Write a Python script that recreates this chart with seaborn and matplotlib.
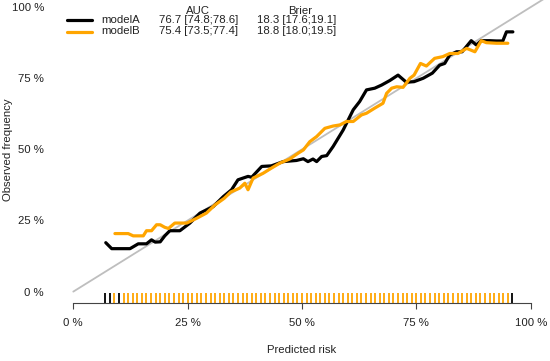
import matplotlib
matplotlib.use("Agg")
import matplotlib.pyplot as plt
from matplotlib.lines import Line2D
import pandas as pd
import seaborn as sns

# calibration curves (percent)
model_a_x = [7.1, 8.4, 12.4, 14.2, 16.0, 17.1, 17.9, 19.0, 20.0, 21.1, 23.3, 25.5, 27.7, 30.6,
             32.8, 34.6, 36.0, 37.1, 38.2, 39.0, 41.2, 43.3, 45.9, 48.8, 50.3, 51.3, 52.4, 53.2,
             54.3, 55.4, 56.8, 59.0, 61.2, 62.6, 64.1, 65.9, 67.4, 69.2, 71.0, 72.8, 74.5, 76.5,
             78.5, 80.1, 81.2, 82.3, 83.8, 85.0, 87.0, 88.1, 89.2, 91.0, 92.5, 93.9, 94.7, 96.1]
model_a_y = [17.2, 15.1, 15.1, 16.8, 16.8, 18.2, 17.4, 17.5, 19.6, 21.4, 21.4, 24.1, 27.6, 29.9,
             33.4, 35.8, 39.3, 39.9, 40.5, 40.2, 44.0, 44.2, 45.7, 46.1, 46.7, 45.7, 46.6, 45.7,
             47.5, 47.8, 51.0, 56.8, 63.9, 66.8, 70.9, 71.5, 72.6, 74.2, 76.1, 73.6, 73.8, 75.0,
             76.8, 79.6, 80.2, 83.2, 84.3, 84.3, 88.2, 86.7, 88.2, 88.2, 88.1, 88.1, 91.3, 91.3]

model_b_x = [9.1, 12.0, 13.1, 15.3, 16.0, 17.1, 18.2, 19.0, 20.0, 20.8, 22.2, 24.8, 27.0, 29.1,
             31.0, 33.0, 34.4, 36.4, 37.5, 38.2, 39.3, 41.5, 43.3, 45.2, 47.3, 49.2, 50.3, 51.7,
             53.2, 55.0, 56.8, 58.3, 59.7, 61.2, 63.0, 64.1, 65.9, 67.7, 68.5, 69.6, 70.7, 72.1,
             73.6, 74.5, 75.9, 77.2, 79.0, 80.8, 82.3, 84.1, 86.0, 87.8, 89.2, 90.3, 92.5, 95.0]
model_b_y = [20.4, 20.4, 19.6, 19.6, 21.4, 21.4, 23.5, 23.5, 22.6, 22.2, 24.1, 24.1, 25.8, 27.6,
             30.5, 32.8, 35.0, 36.4, 38.1, 35.8, 39.9, 41.6, 43.4, 45.2, 46.6, 48.7, 49.8, 52.7,
             54.5, 57.4, 58.2, 58.6, 59.8, 59.8, 62.1, 62.7, 64.5, 66.2, 69.7, 71.5, 72.0, 71.8,
             75.0, 76.1, 80.2, 79.3, 82.0, 82.6, 83.7, 83.7, 85.5, 84.3, 88.2, 87.5, 87.3, 87.3]

# rug of predicted risks
rug_a = [7, 8, 10, 96]
rug_b = [9, 11, 12, 13, 14, 15, 16, 17, 18, 19, 20, 21, 22, 23, 24, 25, 26, 27, 28, 29, 30,
         31, 32, 33, 34, 35, 36, 37, 38, 39, 40, 41, 42, 43, 44, 45, 46, 47, 48, 49, 50,
         51, 52, 53, 54, 55, 56, 57, 58, 59, 60, 61, 62, 63, 64, 65, 66, 67, 68, 69, 70,
         71, 72, 73, 74, 75, 76, 77, 78, 79, 80, 81, 82, 83, 84, 85, 86, 87, 88, 89, 90,
         91, 92, 93, 94, 95]

models = ["modelA", "modelB"]
auc_text = ["76.7 [74.8;78.6]", "75.4 [73.5;77.4]"]
brier_text = ["18.3 [17.6;19.1]", "18.8 [18.0;19.5]"]
colors = {"modelA": "black", "modelB": "#FFA500"}
ticks = [0, 25, 50, 75, 100]
tick_labels = ["0 %", "25 %", "50 %", "75 %", "100 %"]

df = pd.concat([
    pd.DataFrame({"x": model_a_x, "y": model_a_y, "model": "modelA"}),
    pd.DataFrame({"x": model_b_x, "y": model_b_y, "model": "modelB"}),
])

sns.set_style("white")
plt.rcParams["font.family"] = ["Liberation Sans", "DejaVu Sans"]
plt.rcParams["font.size"] = 8.2

W, H = 550, 361
fig = plt.figure(figsize=(W / 100, H / 100), dpi=100)
ax = fig.add_axes([55 / W, (H - 303) / H, 494 / W, 303 / H])
ax.set_xlim(-4, 104)
ax.set_ylim(-4, 102.5)

# diagonal reference
ax.plot([0, 104], [0, 104], color="#BEBEBE", lw=1.3, zorder=1)

sns.lineplot(data=df, x="x", y="y", hue="model", palette=colors, estimator=None,
             sort=False, lw=2.3, legend=False, ax=ax, zorder=3)

ax.vlines(rug_a, -4, -0.4, color="black", lw=1.3)
ax.vlines(rug_b, -4, -0.4, color="#FFA500", lw=1.3)

for side in ["top", "right", "left"]:
    ax.spines[side].set_visible(False)
ax.spines["bottom"].set_color("#444444")
ax.spines["bottom"].set_linewidth(0.8)
ax.spines["bottom"].set_bounds(0, 100)

ax.set_xticks(ticks)
ax.set_xticklabels(tick_labels)
ax.set_yticks(ticks)
ax.set_yticklabels(tick_labels)
ax.tick_params(axis="x", direction="out", length=4.5, width=0.8, color="#444444",
               labelsize=8.2, labelcolor="#222222", bottom=True, pad=6)
ax.tick_params(axis="y", length=0, labelsize=8.2, labelcolor="#222222", left=True, pad=8)
ax.set_xlabel("")
ax.set_ylabel("")

fig.text(302 / W, 1 - 350 / H, "Predicted risk", ha="center", va="center",
         fontsize=8.2, color="#222222")
fig.text(8 / W, 1 - 150 / H, "Observed frequency", ha="center", va="center",
         rotation=90, fontsize=8.2, color="#222222")

# legend block with scores
fig.text(198 / W, 1 - 11 / H, "AUC", ha="center", va="center", fontsize=8.2, color="#222222")
fig.text(300 / W, 1 - 11 / H, "Brier", ha="center", va="center", fontsize=8.2, color="#222222")
for i, m in enumerate(models):
    yy = 1 - (20 + 11.5 * i) / H
    fig.add_artist(Line2D([66.7 / W, 91.7 / W], [yy, yy], color=colors[m], lw=2.3))
    fig.text(101.7 / W, yy, m, ha="left", va="center", fontsize=8.2, color="#222222")
    fig.text(159 / W, yy, auc_text[i], ha="left", va="center", fontsize=8.2, color="#222222")
    fig.text(257 / W, yy, brier_text[i], ha="left", va="center", fontsize=8.2, color="#222222")

fig.savefig("out.png", dpi=100)
